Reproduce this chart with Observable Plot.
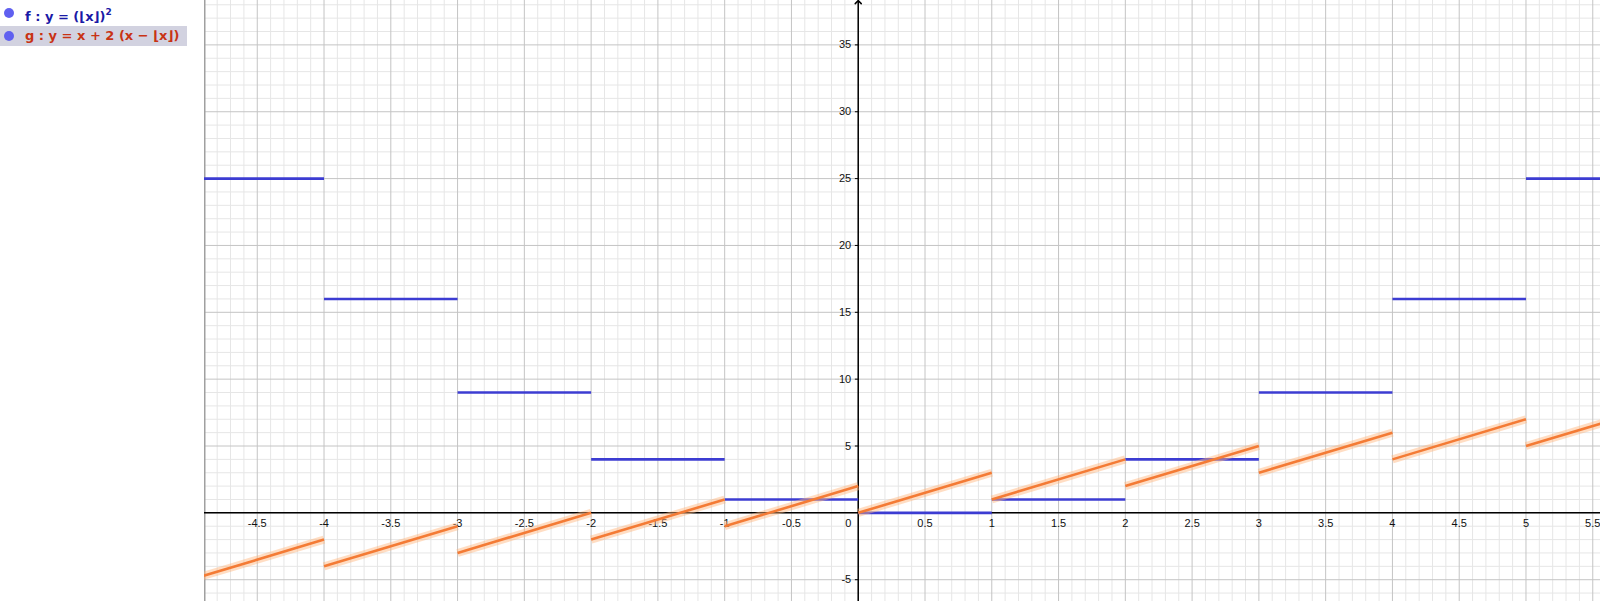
<!DOCTYPE html>
<html>
<head>
<meta charset="utf-8">
<script src="https://cdn.jsdelivr.net/npm/d3@7"></script>
<script src="https://cdn.jsdelivr.net/npm/@observablehq/plot@0.6"></script>
<style>
  html, body { margin: 0; padding: 0; background: #fff; width: 1600px; height: 601px; overflow: hidden; }
  #algebra { position: absolute; left: 0; top: 0; width: 204px; height: 601px; background: #fff;
             font-family: "DejaVu Sans", sans-serif; font-weight: bold; font-size: 13px; }
  .row { position: absolute; left: 0; height: 20px; line-height: 20px; white-space: nowrap; }
  .dot { position: absolute; left: 4px; top: 5px; width: 10px; height: 10px; border-radius: 50%; background: #6060f0; }
  .txt { position: absolute; left: 25px; top: 0; }
  #chart { position: absolute; left: 204px; top: 0; }
</style>
</head>
<body>
<div id="algebra">
  <div class="row" style="top:3px;width:187px;"><span class="dot"></span><span class="txt" style="color:#1a1aa6">f : y = (⌊x⌋)<sup style="font-size:9px;position:relative;top:-1px">2</sup></span></div>
  <div class="row" style="top:26px;width:187px;background:#d2d2e0;"><span class="dot"></span><span class="txt" style="color:#c83214">g : y = x + 2 (x − ⌊x⌋)</span></div>
</div>
<div id="chart"></div>
<script>
// Step intervals [n, n+1)
const stepStarts = [-5, -4, -3, -2, -1, 0, 1, 2, 3, 4, 5];
const stepEnds   = [-4, -3, -2, -1, 0, 1, 2, 3, 4, 5, 6];
// f(x) = (floor x)^2 on each interval
const fValues = [25, 16, 9, 4, 1, 0, 1, 4, 9, 16, 25];
// g(x) = x + 2(x - floor x): values at start and end of each interval
const gStartValues = [-5, -4, -3, -2, -1, 0, 1, 2, 3, 4, 5];
const gEndValues   = [-2, -1, 0, 1, 2, 3, 4, 5, 6, 7, 8];
// axis tick labels
const xTickLabels = [-4.5, -4, -3.5, -3, -2.5, -2, -1.5, -1, -0.5, 0.5, 1, 1.5, 2, 2.5, 3, 3.5, 4, 4.5, 5, 5.5];
const yTickLabels = [-5, 5, 10, 15, 20, 25, 30, 35];

const fSegs = stepStarts.map((s, i) => ({x1: s, x2: stepEnds[i], y: fValues[i]}));
const gSegs = stepStarts.map((s, i) => ({x1: s, x2: stepEnds[i], y1: gStartValues[i], y2: gEndValues[i]}));

const xDomain = [-4.895, 5.558];
const yDomain = [-6.63, 38.32];

const minorX = d3.range(-49, 56).map(i => i / 10).filter(v => Math.abs(v * 2 - Math.round(v * 2)) > 1e-6);
const majorX = d3.range(-10, 12).map(i => i / 2);
const minorY = d3.range(-6, 39).filter(v => v % 5 !== 0);
const majorY = d3.range(-5, 40, 5);

const chart = Plot.plot({
  width: 1396,
  height: 601,
  margin: 0,
  x: {domain: xDomain, axis: null},
  y: {domain: yDomain, axis: null},
  style: {background: "#fff", fontFamily: "'Liberation Sans', Arial, sans-serif"},
  marks: [
    Plot.ruleX(minorX, {stroke: "#e6e6e6", strokeWidth: 1}),
    Plot.ruleY(minorY, {stroke: "#e6e6e6", strokeWidth: 1}),
    Plot.ruleX(majorX, {stroke: "#c4c4c4", strokeWidth: 1}),
    Plot.ruleY(majorY, {stroke: "#c4c4c4", strokeWidth: 1}),
    Plot.ruleX([-4.895], {stroke: "#a0a0a0", strokeWidth: 2}),
    // axes
    Plot.ruleY([0], {stroke: "#000", strokeWidth: 1.5}),
    Plot.link([0], {x1: 0, x2: 0, y1: yDomain[0], y2: 38.2, stroke: "#000", strokeWidth: 1.5, markerEnd: "arrow"}),
    // y tick marks
    Plot.link(yTickLabels, {x1: -0.025, x2: 0, y1: d => d, y2: d => d, stroke: "#000", strokeWidth: 1}),
    // tick labels
    Plot.text(xTickLabels, {x: d => d, y: 0, text: d => String(d), dy: 11, fontSize: 11, fill: "#111", textAnchor: "middle"}),
    Plot.text([0], {x: 0, y: 0, text: d => "0", dy: 11, dx: -10, fontSize: 11, fill: "#111", textAnchor: "middle"}),
    Plot.text(yTickLabels, {x: 0, y: d => d, text: d => String(d), dx: -7, fontSize: 11, fill: "#111", textAnchor: "end"}),
    // f: blue steps
    Plot.link(fSegs, {x1: "x1", x2: "x2", y1: "y", y2: "y", stroke: "#3c3cd2", strokeWidth: 2.6, clip: true}),
    // g: orange glowing segments
    Plot.link(gSegs, {x1: "x1", x2: "x2", y1: "y1", y2: "y2", stroke: "#ffb47a", strokeOpacity: 0.45, strokeWidth: 8, clip: true}),
    Plot.link(gSegs, {x1: "x1", x2: "x2", y1: "y1", y2: "y2", stroke: "#f47b35", strokeWidth: 2.6, clip: true})
  ]
});
document.getElementById("chart").appendChild(chart);
</script>
</body>
</html>
